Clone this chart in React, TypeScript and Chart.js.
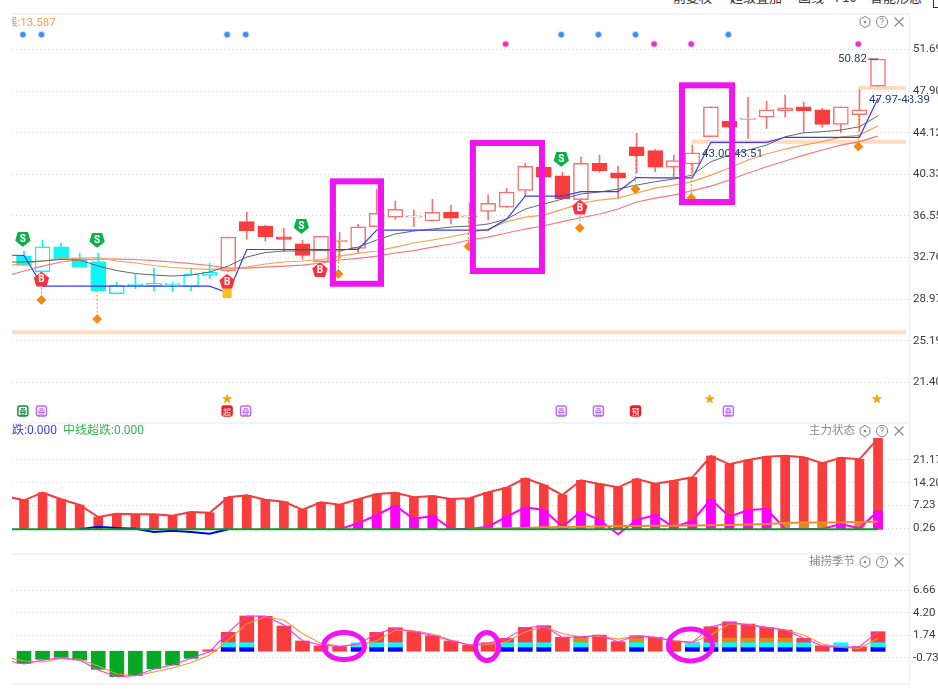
import React, { useEffect, useRef } from "react";
import { Chart, registerables } from "chart.js";

Chart.register(...registerables);
Chart.defaults.font.family = "Roboto, 'Noto Sans CJK SC', sans-serif";

// ---------- candles (index 0 = first visible session) ----------
const opens = [32.89,31.47,33.74,32.65,32.38,29.46,30.16,30.16,30.28,30.10,31.14,31.56,36.02,35.60,34.65,34.01,32.39,34.20,33.59,35.56,36.42,36.44,36.08,36.87,36.44,36.96,37.33,38.87,40.99,40.20,38.02,41.33,40.47,42.84,42.48,40.97,41.27,43.75,45.15,45.32,45.52,46.12,46.48,46.21,44.88,45.75,48.36];
const closes = [32.05,33.74,32.65,31.89,29.74,30.23,30.35,30.41,30.44,31.28,31.44,34.62,35.20,34.65,34.41,32.96,34.71,34.33,35.56,36.78,37.14,36.56,36.87,36.35,36.56,37.69,38.72,41.06,40.08,38.11,41.33,40.63,39.99,42.02,40.97,41.57,42.29,46.48,44.61,45.45,46.21,46.39,46.12,44.88,46.48,46.21,50.82];
const highs = [33.35,34.35,34.10,33.17,33.17,30.53,31.26,31.83,30.53,31.80,32.26,34.62,36.90,35.71,35.41,34.35,34.71,35.05,35.78,38.99,37.90,37.08,38.05,37.53,37.74,38.47,39.05,41.33,40.99,40.51,41.93,42.08,41.08,44.06,42.60,42.08,42.99,46.48,45.15,47.34,47.00,47.54,46.91,46.33,46.48,48.00,50.82];
const lows = [32.05,31.44,32.53,31.89,29.74,29.46,29.92,29.71,29.65,29.74,30.83,31.44,34.41,34.23,33.29,32.59,32.39,32.71,33.19,35.56,36.23,35.56,36.08,35.81,34.99,36.17,37.33,38.35,40.08,38.05,38.02,40.51,38.14,40.45,40.57,40.11,40.45,43.75,44.61,43.60,44.51,45.52,44.15,44.61,44.11,44.27,48.36];
const coldUntil = 10;

// ---------- overlay lines (first value lies one session left of the visible range) ----------
const stepLine = [32.98,32.94,30.16,30.16,30.16,30.16,30.16,30.16,30.16,30.16,30.16,30.16,29.53,33.49,33.49,33.49,33.49,33.49,33.49,33.49,35.26,35.26,35.26,35.26,35.26,35.26,35.26,36.26,38.35,38.35,38.35,38.75,38.75,38.75,40.04,40.00,40.00,40.00,43.24,43.24,43.24,43.24,43.70,43.70,43.70,43.70,43.70,47.25];
const maShort = [32.35,32.35,32.44,32.58,32.53,31.98,31.57,31.30,31.16,31.07,31.16,31.44,31.98,32.80,33.21,33.35,33.35,33.39,33.35,33.71,34.35,34.90,35.17,35.35,35.53,35.62,35.81,36.26,37.17,37.63,38.08,38.54,38.72,38.99,39.35,39.66,39.90,40.26,41.48,42.08,42.54,42.99,43.75,44.11,44.21,44.36,44.66,45.66];
const maMid = [31.98,32.21,32.44,32.67,32.71,32.76,32.44,32.26,32.03,31.85,31.76,31.67,31.76,31.89,32.17,32.35,32.44,32.58,32.89,33.14,33.35,33.71,34.08,34.35,34.65,34.99,35.35,36.02,36.44,36.62,37.14,37.69,37.99,38.17,38.63,39.08,39.35,39.66,40.26,40.90,41.63,42.18,42.63,42.99,43.30,43.72,43.90,44.75];
const maLong = [31.07,31.53,31.98,32.35,32.53,32.62,32.62,32.58,32.48,32.35,32.21,32.03,31.80,31.80,31.89,31.98,32.07,32.26,32.53,32.68,32.89,33.17,33.38,33.71,33.99,34.35,34.62,34.99,35.35,35.65,36.02,36.38,36.72,37.17,37.81,38.17,38.44,38.84,39.26,39.81,40.45,41.02,41.54,42.08,42.54,42.99,43.30,43.81];

// ---------- price levels ----------
const bandPrices = [25.95, 43.29, 48.18];
const bandStarts = [-0.65, 35.95, 44.93];
const bandEnd = 47.5;

// ---------- signals on the price pane ----------
const sellIdx = [0, 4, 15, 29];
const sellPrice = [34.44, 34.35, 35.62, 41.72];
const buyIdx = [1, 11, 16, 30];
const buyPrice = [30.76, 30.56, 31.62, 37.31];
const diamondIdx = [1, 4, 17, 24, 30, 33, 36, 45];
const diamondPrice = [28.89, 27.16, 31.26, 33.76, 35.44, 38.99, 38.17, 42.86];
const diamondFrom = [30.76, 29.74, 34.2, 36.44, 38.02, 42.02, 41.27, 45.75];
const blueDotIdx = [0, 1, 11, 12, 29, 31, 33, 38];
const pinkDotIdx = [26, 34, 36, 45];
const blueDotPrice = 53.05;
const pinkDotPrice = 52.19;
const starIdx = [11, 37, 46];
const starPrice = 19.88;
const tagPrice = 18.79;
const tagIdx = [0, 1, 11, 12, 29, 31, 33, 38];
const tagText = ["叠", "叠", "超", "叠", "叠", "叠", "预", "叠"];
const tagKind = ["green", "purple", "red", "purple", "purple", "purple", "red", "purple"];
const yellowMarkIdx = 11;
const yellowMarkPrice = 29.52;

// ---------- annotation frames: [idx from, idx to, price low, price high] ----------
const frames = [
  [16.64, 19.23, 30.37, 39.69],
  [24.18, 27.9, 31.53, 43.18],
  [35.44, 38.14, 37.81, 48.43],
];

// ---------- axis ticks ----------
const priceTicks = [51.69, 47.9, 44.12, 40.33, 36.55, 32.76, 28.97, 25.19, 21.4];
const flowTicks = [21.17, 14.2, 7.23, 0.26];
const seasonTicks = [6.66, 4.2, 1.74, -0.73];

// ---------- main-force pane ----------
const flowBars = [8.82,11.15,9.13,7.39,3.72,4.72,4.54,4.54,4.11,5.24,5.03,9.74,10.35,9.01,8.39,5.95,8.21,7.48,9.13,10.75,11.15,9.74,10.14,9.22,9.43,11.27,12.68,15.55,13.5,10.44,14.94,13.81,12.8,15.34,13.9,14.82,15.86,22.37,19.83,21.15,22.16,22.46,21.97,20.14,21.85,21.36,27.78];
const flowLead = 10.1;
const pinkLine = [null,null,null,null,null,null,null,null,null,null,null,null,null,null,null,null,null,0,1.79,4.33,7.17,3.1,4.11,0.05,0.05,0.75,3.81,6.68,5.86,0.75,5.34,2.8,-1.57,2.8,4.33,0.57,2.49,9.13,3.81,5.86,6.16,0.05,0.05,0.05,1.57,0.26,5.55];
const amberBars = [0,0,0,0,0,0,0,0,0,0,0,0,0,0,0,0,0,0,0,0,0,0,0,0,0,0,0,0,0,0,0,0,0,0,0,0,0,0,0,0,0,2.1,2.2,2.2,0,2.4,0];
const amberLine = [null,null,null,null,null,null,null,null,null,null,null,null,null,null,null,null,null,null,null,null,null,null,null,null,0.1,0.15,0.25,0.35,0.55,0.65,0.75,0.85,0.95,1,1.05,1.05,1.1,1.2,1.3,1.4,1.6,1.9,2,2,2.1,2.2,2.3];
const blueFlow = [null,null,null,0,0.75,0.35,0.15,-0.87,-0.47,-0.87,-1.39,0];
const flowBase = flowBars.concat([0]).map(() => 0);

// ---------- season pane ----------
const seasonBars = [-1.33,-0.89,-0.67,-0.96,-1.98,-2.79,-2.68,-1.92,-1.51,-0.78,0.16,2.07,3.86,3.82,2.76,1.12,0.6,0.49,0.86,2.07,2.58,2.14,1.7,1.12,0.68,0.93,1.41,2.61,2.8,1.53,1.59,1.77,1.04,1.7,1.53,1.12,0.93,2.68,3.23,2.98,2.62,2.32,1.41,0.6,0.86,0.49,2.14];
const coolIdx = [11,12,18,19,20,26,27,28,30,33,36,37,38,39,40,41,42,44,46];
const amberIdx = [30,33,38,39,40,41];
const blueLevel = 0.4;
const cyanLevel = 0.93;
const amberLevel = 1.44;
const seasonPink = [-0.97,-1.4,-0.97,-0.71,-0.97,-2.06,-2.79,-2.68,-1.95,-1.51,-0.78,-0.05,2.06,3.85,3.85,2.87,1.15,0.68,0.5,0.79,1.95,2.5,2.14,1.74,1.15,0.68,0.86,1.41,2.58,2.76,1.52,1.59,1.74,1.04,1.7,1.52,1.12,0.97,2.69,3.16,2.9,2.61,2.32,1.41,0.57,0.42,0.5,2.14];
const seasonAmber = [-0.67,-1.07,-1.18,-0.78,-0.89,-1.62,-2.5,-2.68,-2.28,-1.84,-1.26,-0.42,1.23,2.98,3.78,3.42,1.95,0.86,0.57,0.68,1.15,2.32,2.25,1.88,1.23,0.68,0.75,1.04,2.14,2.69,1.95,1.59,1.66,1.33,1.66,1.52,1.15,0.97,1.77,3.01,2.9,2.61,2.32,1.77,0.79,0.42,0.31,1.41];
// ellipses: [centre idx, idx half-width, centre value, value half-height]
const ellipses = [
  [17.24, 1.1, 0.57, 1.48],
  [24.94, 0.62, 0.51, 1.53],
  [35.9, 1.185, 0.68, 1.75],
];

const X_MIN = -0.646;
const X_MAX = 47.67;
const MARK = -0.06;
const RED = "#f93c3c";
const RED_SOFT = "#f87272";
const CYAN = "#0ff5f5";
const MAGENTA = "#f015f0";
const FONT_UI = "Roboto, 'Noto Sans CJK SC', sans-serif";

const pts = (arr: (number | null)[], start = 0) => arr.map((y, i) => ({ x: i + start, y }));

function baseOptions(min: number, max: number, ticks: number[], top: number, plugins: any = {}) {
  return {
    responsive: false,
    animation: false as const,
    devicePixelRatio: 1,
    layout: { autoPadding: false, padding: { left: 12, right: 0, top, bottom: 0 } },
    events: [],
    plugins: { legend: { display: false }, tooltip: { enabled: false }, ...plugins },
    scales: {
      x: { type: "linear", display: false, min: X_MIN, max: X_MAX, offset: false, grid: { offset: false } },
      y: {
        position: "right",
        min,
        max,
        border: { display: false, dash: [1, 3] },
        grid: { color: "#d8d8d8", drawTicks: false, tickLength: 0 },
        afterBuildTicks: (axis: any) => {
          axis.ticks = ticks.map((value) => ({ value }));
        },
        afterFit: (axis: any) => {
          axis.width = 29;
          axis.paddingTop = 0;
          axis.paddingBottom = 0;
        },
        ticks: {
          autoSkip: false,
          padding: 4,
          align: "center",
          crossAlign: "near",
          color: "#3a3a3a",
          font: { size: 11.5, family: FONT_UI },
          callback: (v: number) => Number(v).toFixed(2),
        },
      },
    },
  };
}

function drawIcons(ctx: CanvasRenderingContext2D, y: number) {
  ctx.save();
  ctx.strokeStyle = "#8a8a8a";
  ctx.fillStyle = "#8a8a8a";
  ctx.lineWidth = 1;
  const hx = 865;
  ctx.beginPath();
  for (let k = 0; k < 6; k++) {
    const a = Math.PI / 6 + (k * Math.PI) / 3;
    const px = hx + 5.6 * Math.cos(a);
    const py = y + 5.6 * Math.sin(a);
    if (k === 0) ctx.moveTo(px, py);
    else ctx.lineTo(px, py);
  }
  ctx.closePath();
  ctx.stroke();
  ctx.beginPath();
  ctx.arc(hx, y, 1.3, 0, Math.PI * 2);
  ctx.fill();
  ctx.beginPath();
  ctx.arc(882, y, 5.6, 0, Math.PI * 2);
  ctx.stroke();
  ctx.font = `9px ${FONT_UI}`;
  ctx.textAlign = "center";
  ctx.textBaseline = "middle";
  ctx.fillText("?", 882, y + 0.5);
  ctx.lineWidth = 1.2;
  ctx.beginPath();
  ctx.moveTo(894.5, y - 4.5);
  ctx.lineTo(903.5, y + 4.5);
  ctx.moveTo(903.5, y - 4.5);
  ctx.lineTo(894.5, y + 4.5);
  ctx.stroke();
  ctx.restore();
}

function starPath(ctx: CanvasRenderingContext2D, cx: number, cy: number, r: number) {
  ctx.beginPath();
  for (let k = 0; k < 10; k++) {
    const rad = k % 2 === 0 ? r : r * 0.42;
    const a = -Math.PI / 2 + (k * Math.PI) / 5;
    const px = cx + rad * Math.cos(a);
    const py = cy + rad * Math.sin(a);
    if (k === 0) ctx.moveTo(px, py);
    else ctx.lineTo(px, py);
  }
  ctx.closePath();
}

function pentagon(ctx: CanvasRenderingContext2D, cx: number, cy: number, down: boolean, color: string, text: string) {
  const s = down ? -1 : 1;
  ctx.save();
  ctx.fillStyle = color;
  ctx.strokeStyle = color;
  ctx.lineJoin = "round";
  ctx.lineWidth = 1.5;
  ctx.beginPath();
  ctx.moveTo(cx, cy - 6.8 * s);
  ctx.lineTo(cx + 6.8, cy - 1.4 * s);
  ctx.lineTo(cx + 4.5, cy + 6.2 * s);
  ctx.lineTo(cx - 4.5, cy + 6.2 * s);
  ctx.lineTo(cx - 6.8, cy - 1.4 * s);
  ctx.closePath();
  ctx.fill();
  ctx.stroke();
  ctx.fillStyle = "#fff";
  ctx.font = `bold 10px ${FONT_UI}`;
  ctx.textAlign = "center";
  ctx.textBaseline = "middle";
  ctx.fillText(text, cx, cy + 0.5);
  ctx.restore();
}

const priceOverlay = {
  id: "priceOverlay",
  afterDatasetsDraw(chart: any) {
    const { ctx, scales, chartArea } = chart;
    const X = (v: number) => scales.x.getPixelForValue(v);
    const Y = (v: number) => scales.y.getPixelForValue(v);

    // mark under the buy badge
    ctx.fillStyle = "#f7c21a";
    const mx = X(yellowMarkIdx + MARK);
    const my = Y(yellowMarkPrice);
    ctx.fillRect(mx - 4.5, my - 5, 9, 10);

    sellIdx.forEach((idx, i) => pentagon(ctx, X(idx + MARK), Y(sellPrice[i]), true, "#0bb04a", "S"));
    buyIdx.forEach((idx, i) => pentagon(ctx, X(idx + MARK), Y(buyPrice[i]), false, "#f5333f", "B"));

    ctx.fillStyle = "#f5a50a";
    starIdx.forEach((idx) => {
      starPath(ctx, X(idx + MARK), Y(starPrice), 5.5);
      ctx.fill();
    });

    tagIdx.forEach((idx, i) => {
      const cx = X(idx + MARK);
      const cy = Y(tagPrice);
      const kind = tagKind[i];
      const c = kind === "green" ? "#12863a" : kind === "red" ? "#ee1c25" : "#b868f5";
      ctx.beginPath();
      ctx.roundRect(cx - 5, cy - 5, 10, 10, 2);
      ctx.fillStyle = kind === "red" ? c : "#fff";
      ctx.fill();
      ctx.lineWidth = 1.4;
      ctx.strokeStyle = c;
      ctx.stroke();
      ctx.fillStyle = kind === "red" ? "#fff" : c;
      ctx.font = `8px 'Noto Sans CJK SC'`;
      ctx.textAlign = "center";
      ctx.textBaseline = "middle";
      ctx.fillText(tagText[i], cx, cy + 0.5);
    });

    // value readouts
    ctx.fillStyle = "#20406e";
    ctx.font = `11.5px ${FONT_UI}`;
    ctx.textBaseline = "middle";
    ctx.textAlign = "right";
    ctx.fillText("50.82", X(46) - 11, Y(50.82));
    ctx.strokeStyle = "#333";
    ctx.lineWidth = 1;
    ctx.beginPath();
    ctx.moveTo(X(46) - 10, Y(50.82));
    ctx.lineTo(X(46), Y(50.82));
    ctx.stroke();
    ctx.textAlign = "left";
    ctx.fillText("43.00-43.51", X(36.52), Y(42.18));
    ctx.fillText("47.97-48.39", X(45.52), Y(47.09));

    // series readout, clipped at the plot's left edge
    ctx.save();
    ctx.beginPath();
    ctx.rect(chartArea.left, 0, 200, 40);
    ctx.clip();
    ctx.fillStyle = "#f0a040";
    ctx.font = `11.5px ${FONT_UI}`;
    ctx.fillText("强:13.587", 6, 23);
    ctx.restore();

    // hand-drawn frames
    ctx.strokeStyle = MAGENTA;
    ctx.lineWidth = 6;
    ctx.lineJoin = "miter";
    frames.forEach(([a, b, lo, hi]) => {
      ctx.strokeRect(X(a), Y(hi), X(b) - X(a), Y(lo) - Y(hi));
    });

    drawIcons(ctx, 22);
  },
};

const flowOverlay = {
  id: "flowOverlay",
  afterDatasetsDraw(chart: any) {
    const { ctx, chartArea } = chart;
    ctx.save();
    ctx.beginPath();
    ctx.rect(chartArea.left, 0, 300, 30);
    ctx.clip();
    ctx.textBaseline = "middle";
    ctx.textAlign = "left";
    ctx.font = `12px ${FONT_UI}`;
    ctx.fillStyle = "#3d3df5";
    ctx.fillText("跌:0.000", 12, 8);
    ctx.fillStyle = "#2fb84f";
    ctx.fillText("中线超跌:0.000", 63, 8);
    ctx.restore();
    ctx.fillStyle = "#8a8a8a";
    ctx.font = `11.5px ${FONT_UI}`;
    ctx.textBaseline = "middle";
    ctx.textAlign = "right";
    ctx.fillText("主力状态", 855, 8);
    drawIcons(ctx, 8);
  },
};

const seasonOverlay = {
  id: "seasonOverlay",
  afterDatasetsDraw(chart: any) {
    const { ctx, scales } = chart;
    const X = (v: number) => scales.x.getPixelForValue(v);
    const Y = (v: number) => scales.y.getPixelForValue(v);
    ctx.strokeStyle = MAGENTA;
    ctx.lineWidth = 5;
    ellipses.forEach(([cx, rx, cy, ry]) => {
      ctx.beginPath();
      ctx.ellipse(X(cx), Y(cy), X(cx + rx) - X(cx), Y(cy - ry) - Y(cy), 0, 0, Math.PI * 2);
      ctx.stroke();
    });
    ctx.fillStyle = "#8a8a8a";
    ctx.font = `11.5px ${FONT_UI}`;
    ctx.textBaseline = "middle";
    ctx.textAlign = "right";
    ctx.fillText("捕捞季节", 855, 9);
    drawIcons(ctx, 9);
  },
};

function line(data: any[], color: string, width: number, extra: any = {}) {
  return {
    type: "line",
    data,
    borderColor: color,
    borderWidth: width,
    pointRadius: 0,
    tension: 0,
    fill: false,
    ...extra,
  };
}

function priceConfig() {
  const idx = opens.map((_, i) => i);
  const color = (i: number) => (i <= coldUntil ? CYAN : RED_SOFT);
  const hollow = (i: number) => closes[i] >= opens[i];
  const dashes: any[] = [];
  diamondIdx.forEach((d, i) => {
    dashes.push({ x: d + MARK, y: diamondFrom[i] }, { x: d + MARK, y: diamondPrice[i] }, { x: d + MARK, y: null });
  });
  const bands = bandPrices.map((p, i) =>
    line(
      [
        { x: bandStarts[i], y: p },
        { x: bandEnd, y: p },
      ],
      "#fddcc2",
      4
    )
  );
  const dots = (ids: number[], price: number, c: string, halo: string) => ({
    type: "scatter",
    data: ids.map((d) => ({ x: d + MARK, y: price })),
    pointStyle: "circle",
    pointRadius: 2.6,
    pointBorderWidth: 2,
    backgroundColor: c,
    borderColor: halo,
  });
  return {
    type: "bar",
    data: {
      datasets: [
        {
          type: "scatter",
          data: diamondIdx.map((d, i) => ({ x: d + MARK, y: diamondPrice[i] })),
          pointStyle: "rectRot",
          pointRadius: 4.4,
          backgroundColor: "#f58a12",
          borderColor: "#f58a12",
        },
        line(dashes, "#f58a12", 1, { borderDash: [2, 2], spanGaps: false }),
        dots(blueDotIdx, blueDotPrice, "#3b8ff0", "rgba(59,143,240,0.35)"),
        dots(pinkDotIdx, pinkDotPrice, "#e82fc0", "rgba(232,47,192,0.35)"),
        line(pts(stepLine, -1), "#3a3af0", 1.2),
        line(pts(maShort, -1), "#666666", 1),
        line(pts(maMid, -1), "#eba355", 1.2),
        line(pts(maLong, -1), "#f87878", 1.2),
        {
          type: "bar",
          data: idx.map((i) => ({ x: i, y: [opens[i], closes[i]] })),
          barThickness: 15,
          grouped: false,
          borderSkipped: false,
          borderWidth: 1.5,
          borderColor: idx.map((i) => (i <= coldUntil ? CYAN : hollow(i) ? RED_SOFT : RED)),
          backgroundColor: idx.map((i) => (hollow(i) ? "#ffffff" : i <= coldUntil ? CYAN : RED)),
        },
        {
          type: "bar",
          data: idx.map((i) => ({ x: i, y: [lows[i], highs[i]] })),
          barThickness: 1,
          grouped: false,
          borderWidth: 0,
          backgroundColor: idx.map(color),
        },
        ...bands,
      ],
    },
    options: baseOptions(17.88, 54.92, priceTicks, 14),
    plugins: [priceOverlay],
  };
}

function flowConfig() {
  const idx = flowBars.map((_, i) => i);
  return {
    type: "bar",
    data: {
      datasets: [
        line(pts(flowBase, -1), "#0a9a2a", 2),
        line(pts(amberLine), "#e8912a", 2),
        line(pts(pinkLine), "#ff00ff", 2),
        line(pts(blueFlow), "#0000ee", 2),
        line(pts([flowLead, ...flowBars], -1), "#f53c3c", 2),
        {
          type: "bar",
          data: idx.map((i) => ({ x: i, y: amberBars[i] })),
          barThickness: 9,
          grouped: false,
          backgroundColor: "#e08a1e",
        },
        {
          type: "bar",
          data: idx.map((i) => ({ x: i, y: pinkLine[i] !== null && (pinkLine[i] as number) > 0 ? pinkLine[i] : 0 })),
          barThickness: 9,
          grouped: false,
          backgroundColor: "#ff00ff",
        },
        {
          type: "bar",
          data: idx.map((i) => ({ x: i, y: flowBars[i] })),
          barThickness: 9,
          grouped: false,
          backgroundColor: RED,
        },
      ],
    },
    options: baseOptions(-7.29, 32.46, flowTicks, 0),
    plugins: [flowOverlay],
  };
}

function seasonConfig() {
  const idx = seasonBars.map((_, i) => i);
  const layer = (ids: number[], level: number, c: string) => ({
    type: "bar",
    data: ids.map((i) => ({ x: i, y: level })),
    barThickness: 14,
    grouped: false,
    backgroundColor: c,
  });
  return {
    type: "bar",
    data: {
      datasets: [
        line(pts(seasonPink, -1), "#ff30ff", 1.1),
        line(pts(seasonAmber, -1), "#eb9a3c", 1.1),
        layer(coolIdx, blueLevel, "#0000ff"),
        layer(coolIdx, cyanLevel, "#00ffff"),
        layer(amberIdx, amberLevel, "#e0861a"),
        {
          type: "bar",
          data: idx.map((i) => ({ x: i, y: seasonBars[i] })),
          barThickness: 14,
          grouped: false,
          backgroundColor: idx.map((i) => (seasonBars[i] < 0 ? "#06a825" : RED)),
        },
      ],
    },
    options: baseOptions(-3.48, 10.76, seasonTicks, 0),
    plugins: [seasonOverlay],
  };
}

function Pane({ top, height, make }: { top: number; height: number; make: () => any }) {
  const ref = useRef<HTMLCanvasElement>(null);
  useEffect(() => {
    const chart = new Chart(ref.current as HTMLCanvasElement, make());
    return () => chart.destroy();
  }, [make]);
  return <canvas ref={ref} width={938} height={height} style={{ position: "absolute", left: 0, top, width: 938, height }} />;
}

const headerItems = [
  { text: "前复权 ·", left: 673 },
  { text: "超级叠加 ·", left: 730 },
  { text: "画线", left: 798 },
  { text: "F10", left: 835 },
  { text: "智能形态", left: 870 },
];
const separators = [13, 422, 553, 683];

export default function App() {
  return (
    <div style={{ position: "absolute", left: 0, top: 0, width: 938, height: 692, background: "#fff", overflow: "hidden" }}>
      {headerItems.map((h) => (
        <span
          key={h.text}
          style={{ position: "absolute", left: h.left, top: -11, fontSize: 13, lineHeight: "15px", color: "#333", fontFamily: "'Noto Sans CJK SC', sans-serif", whiteSpace: "nowrap" }}
        >
          {h.text}
        </span>
      ))}
      <div style={{ position: "absolute", left: 933, top: -2, width: 8, height: 8, border: "1.5px solid #333" }} />
      <Pane top={0} height={421} make={priceConfig} />
      <Pane top={423} height={130} make={flowConfig} />
      <Pane top={553} height={130} make={seasonConfig} />
      {separators.map((y) => (
        <div key={y} style={{ position: "absolute", left: 12, top: y, width: 897, height: 2, background: "#f3f3f3" }} />
      ))}
      <div style={{ position: "absolute", left: 909, top: 13, width: 1, height: 672, background: "#eeeeee" }} />
    </div>
  );
}
